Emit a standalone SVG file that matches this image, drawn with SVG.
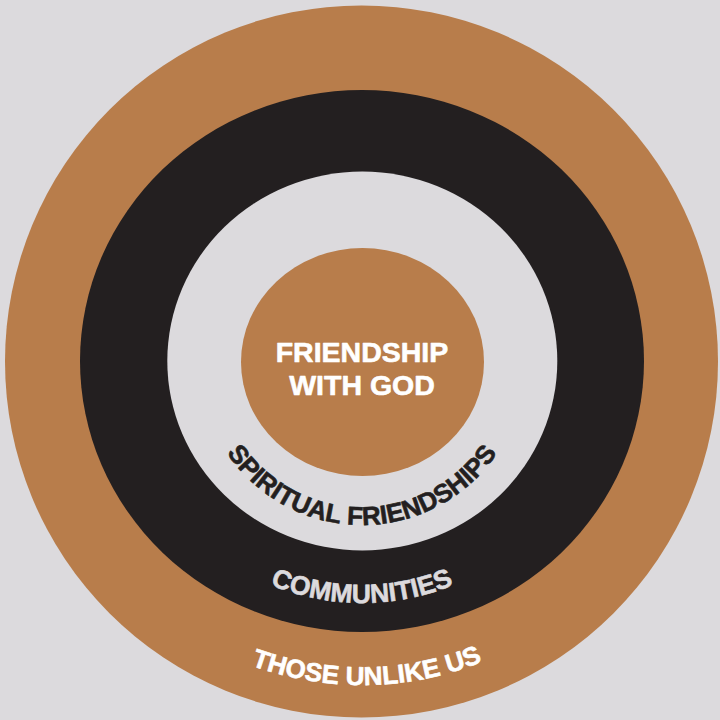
<svg xmlns="http://www.w3.org/2000/svg" xmlns:xlink="http://www.w3.org/1999/xlink" width="720" height="720" viewBox="0 0 720 720">
  <style>
    .lbl { font-family: "Liberation Sans", Arial, Helvetica, sans-serif; font-weight: bold; stroke-width: 0.6; stroke-linejoin: round; }
    .white { fill: #ffffff; stroke: #ffffff; }
    .darktxt { fill: #231f20; stroke: #231f20; }
    .lighttxt { fill: #dcdadd; stroke: #dcdadd; }
    .brown { fill: #b87d4b; }
    .dark { fill: #231f20; }
    .light { fill: #dcdadd; }
  </style>
  <defs>
    <path id="arcSpiritual" d="M 199 362 A 163 163 0 0 0 525 362"/>
    <path id="arcCommunities" d="M 121 362 A 241 241 0 0 0 603 362"/>
    <path id="arcThose" d="M 39 362 A 323 323 0 0 0 685 362"/>
  </defs>
  <rect x="0" y="0" width="720" height="720" class="light"/>
  <g id="those-unlike-us">
    <ellipse cx="361.5" cy="361.5" rx="356.5" ry="356" class="brown"/>
  </g>
  <g id="communities">
    <ellipse cx="362" cy="361" rx="282" ry="271" class="dark"/>
  </g>
  <g id="spiritual-friendships">
    <ellipse cx="362.3" cy="361" rx="195" ry="189.5" class="light"/>
  </g>
  <g id="friendship-with-god">
    <ellipse cx="362.5" cy="362" rx="121.5" ry="114" class="brown"/>
    <text class="lbl white" x="362" y="362" font-size="28.5" text-anchor="middle">FRIENDSHIP</text>
    <text class="lbl white" x="362" y="395" font-size="28.5" text-anchor="middle">WITH GOD</text>
  </g>
  <g id="ring-labels">
    <text class="lbl darktxt" font-size="26"><textPath xlink:href="#arcSpiritual" href="#arcSpiritual" startOffset="50%" text-anchor="middle">SPIRITUAL FRIENDSHIPS</textPath></text>
    <text class="lbl lighttxt" font-size="26.5"><textPath xlink:href="#arcCommunities" href="#arcCommunities" startOffset="50%" text-anchor="middle">COMMUNITIES</textPath></text>
    <text class="lbl white" font-size="26"><textPath xlink:href="#arcThose" href="#arcThose" startOffset="50.5%" text-anchor="middle">THOSE UNLIKE US</textPath></text>
  </g>
</svg>
